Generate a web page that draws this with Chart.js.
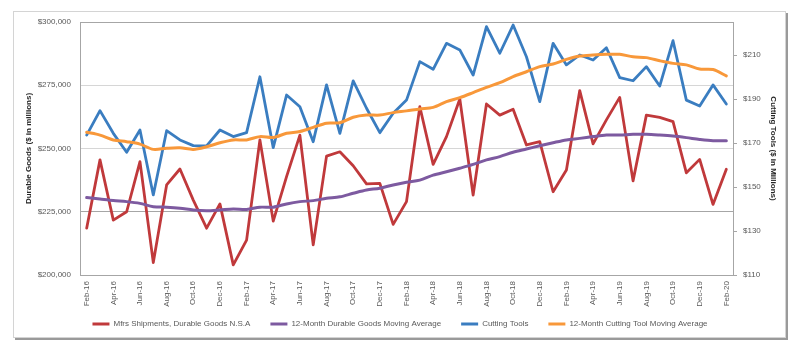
<!DOCTYPE html>
<html>
<head>
<meta charset="utf-8">
<script src="https://cdn.jsdelivr.net/npm/chart.js@4.4.0/dist/chart.umd.min.js"></script>
<style>
  html, body { margin: 0; padding: 0; background: #ffffff; }
  #wrap { position: absolute; left: 0; top: 0; width: 800px; height: 347px; }
</style>
</head>
<body>
<div id="wrap"><canvas id="c" width="800" height="347"></canvas></div>
<script>
const months = ["Feb-16","Mar-16","Apr-16","May-16","Jun-16","Jul-16","Aug-16","Sep-16","Oct-16","Nov-16","Dec-16","Jan-17",
  "Feb-17","Mar-17","Apr-17","May-17","Jun-17","Jul-17","Aug-17","Sep-17","Oct-17","Nov-17","Dec-17","Jan-18",
  "Feb-18","Mar-18","Apr-18","May-18","Jun-18","Jul-18","Aug-18","Sep-18","Oct-18","Nov-18","Dec-18","Jan-19",
  "Feb-19","Mar-19","Apr-19","May-19","Jun-19","Jul-19","Aug-19","Sep-19","Oct-19","Nov-19","Dec-19","Jan-20","Feb-20"];

const durableGoods = [218500,245500,221700,225000,244800,204900,235600,241900,229600,218500,228100,204000,
  213800,253400,221300,238900,255300,211900,247000,248700,243200,236000,236200,220000,
  229000,266500,243700,254700,269600,231600,267600,263200,265500,251400,252700,232900,
  241500,272900,251800,261300,270200,237200,263200,262300,260600,240400,245700,227900,241800];

const durableMA = [230600,230000,229400,229000,228300,227000,226800,226400,225700,225400,225700,226100,
  225900,226800,226800,228100,229000,229400,230300,230900,232300,233600,234300,235600,
  236700,237500,239500,240800,242200,243700,245500,246800,248500,249800,251100,252300,
  253400,254000,254700,255300,255300,255600,255600,255300,254900,254300,253600,253100,253100];

const cuttingTools = [173.6,184.7,174.4,165.8,175.9,146.4,175.6,171.4,168.8,168.7,175.9,172.9,
  174.7,200.1,167.9,191.8,186.5,170.6,196.4,174.4,198.2,185.8,174.7,183.5,
  189.5,207.0,203.5,215.3,212.3,200.9,222.9,210.8,223.6,209.2,188.8,215.3,
  205.5,210.0,207.7,213.3,199.7,198.3,204.7,195.9,216.5,189.5,186.8,196.4,187.7];

const cuttingMA = [174.9,173.6,171.4,170.6,169.5,167.1,167.6,167.8,167.1,168.3,170.1,171.4,
  171.4,172.9,172.5,174.4,175.2,177.1,179.0,179.2,181.7,182.7,182.7,183.8,
  184.6,185.5,186.2,188.8,190.6,192.9,195.3,197.4,200.2,202.4,204.7,205.9,
  208.0,209.5,210.0,210.3,210.3,209.2,208.8,207.4,206.2,205.5,203.6,203.4,200.5];

const leftTicks = [200000,225000,250000,275000,300000];
const rightTicks = [110,130,150,170,190,210];

const FONT = "'Liberation Sans',Arial,sans-serif";
const FS = 8;
const TXT = '#595959';

function fmtThousands(v) {
  return '$' + String(v).replace(/\B(?=(\d{3})+(?!\d))/g, ',');
}

const frame = {
  id: 'frame',
  afterInit(chart) {
    const lg = chart.legend;
    if (lg) {
      const origFit = lg.fit.bind(lg);
      lg.fit = function() { origFit(); this.height = 26; };
    }
  },
  afterLayout(chart) {
    const lg = chart.legend;
    if (lg) { lg.top = 300; lg.bottom = 336; }
  },
  beforeDraw(chart) {
    const ctx = chart.ctx;
    ctx.save();
    ctx.fillStyle = '#ffffff';
    ctx.fillRect(0, 0, chart.width, chart.height);
    ctx.strokeStyle = '#d4d4d4';
    ctx.lineWidth = 1;
    ctx.strokeRect(13.5, 11.5, 772, 326);
    ctx.strokeStyle = '#9a9a9a';
    ctx.lineWidth = 2;
    ctx.beginPath();
    ctx.moveTo(787, 13); ctx.lineTo(787, 339.5);
    ctx.moveTo(15, 339); ctx.lineTo(788, 339);
    ctx.stroke();
    ctx.restore();
  }
};

const legendGen = (chart) => {
  const items = Chart.defaults.plugins.legend.labels.generateLabels(chart);
  items.forEach(it => { it.lineWidth = 0; });
  return items;
};

new Chart(document.getElementById('c'), {
  type: 'line',
  data: {
    labels: months,
    datasets: [
      { label: 'Mfrs Shipments, Durable Goods N.S.A', data: durableGoods, yAxisID: 'y',
        borderColor: '#C0393B', backgroundColor: '#C0393B', borderWidth: 2.8, order: 4 },
      { label: '12-Month Durable Goods Moving Average', data: durableMA, yAxisID: 'y',
        borderColor: '#7D5AA0', backgroundColor: '#7D5AA0', borderWidth: 3, order: 3, tension: 0.3 },
      { label: 'Cutting Tools', data: cuttingTools, yAxisID: 'y1',
        borderColor: '#3A7DC0', backgroundColor: '#3A7DC0', borderWidth: 2.8, order: 2 },
      { label: '12-Month Cutting Tool Moving Average', data: cuttingMA, yAxisID: 'y1',
        borderColor: '#F8983A', backgroundColor: '#F8983A', borderWidth: 3, order: 1, tension: 0.3 }
    ]
  },
  options: {
    responsive: false,
    animation: false,
    devicePixelRatio: 1,
    layout: { padding: { top: 22, left: 0, right: 0, bottom: 9 } },
    elements: { point: { radius: 0, hoverRadius: 0 }, line: { borderCapStyle: 'round', borderJoinStyle: 'round' } },
    plugins: {
      tooltip: { enabled: false },
      legend: {
        position: 'bottom',
        labels: {
          boxWidth: 17, boxHeight: 3, padding: 20, color: TXT,
          font: { family: FONT, size: FS },
          generateLabels: legendGen,
          sort: (a, b) => a.datasetIndex - b.datasetIndex
        }
      }
    },
    scales: {
      x: {
        type: 'category',
        offset: true,
        grid: { display: false, drawTicks: false },
        border: { display: true, color: '#a6a6a6', width: 1 },
        ticks: {
          autoSkip: false, minRotation: 90, maxRotation: 90, padding: 6, color: TXT,
          font: { family: FONT, size: FS },
          callback: function(v, i) { return i % 2 === 0 ? this.getLabelForValue(v) : null; }
        },
        afterFit(s) { s.height = 37; }
      },
      y: {
        position: 'left',
        min: 200000, max: 300000,
        afterBuildTicks(s) { s.ticks = leftTicks.map(v => ({ value: v })); },
        afterFit(s) { s.width = 80; },
        grid: {
          drawTicks: false,
          color: (c) => c.tick && (c.tick.value === 225000 || c.tick.value === 300000) ? '#a6a6a6' : '#d6d6d6',
          lineWidth: 1
        },
        border: { display: true, color: '#a6a6a6', width: 1 },
        ticks: { padding: 9, color: TXT, font: { family: FONT, size: FS }, callback: (v) => fmtThousands(v) },
        title: { display: true, text: 'Durable Goods ($ in millions)', color: '#262626',
          font: { family: FONT, size: FS, weight: 'bold' }, padding: { top: 24, bottom: 0 } }
      },
      y1: {
        position: 'right',
        min: 110, max: 225,
        afterBuildTicks(s) { s.ticks = rightTicks.map(v => ({ value: v })); },
        afterFit(s) { s.width = 67; },
        grid: { drawOnChartArea: false, drawTicks: true, tickLength: 4, color: '#a6a6a6' },
        border: { display: true, color: '#a6a6a6', width: 1 },
        ticks: { padding: 6, color: TXT, font: { family: FONT, size: FS }, callback: (v) => '$' + v },
        title: { display: true, text: 'Cutting Tools ($ in Millions)', color: '#262626',
          font: { family: FONT, size: FS, weight: 'bold' }, padding: { top: 22, bottom: 0 } }
      }
    }
  },
  plugins: [frame]
});
</script>
</body>
</html>
